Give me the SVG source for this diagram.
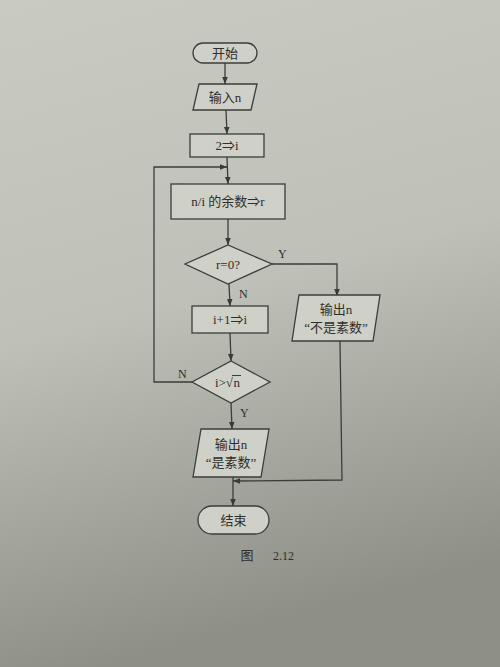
<svg xmlns="http://www.w3.org/2000/svg" width="500" height="667" viewBox="0 0 500 667">
<defs>
<linearGradient id="bg" x1="0" y1="0" x2="0.2" y2="1">
<stop offset="0" stop-color="#c9cac2"/>
<stop offset="0.5" stop-color="#bfc0b8"/>
<stop offset="1" stop-color="#8e9088"/>
</linearGradient>
<marker id="ah" viewBox="0 0 10 10" refX="10" refY="5" markerWidth="7" markerHeight="7" markerUnits="userSpaceOnUse" orient="auto">
<path d="M0,1 L10,5 L0,9 z" fill="#3a3a38"/>
</marker>
</defs>
<style>
.shape{fill:#cfd0c8;stroke:#3c3c3a;stroke-width:1.3}
.t{font-family:"Liberation Serif","Noto Sans CJK SC",serif;font-size:13px;fill:#2e2e2c;text-anchor:middle}
.lbl{font-family:"Liberation Serif",serif;font-size:12px;fill:#2e2e2c}
.c{fill:none;stroke:#3c3c3a;stroke-width:1.3}
.ca{fill:none;stroke:#3c3c3a;stroke-width:1.3;marker-end:url(#ah)}
</style>
<rect width="500" height="667" fill="url(#bg)"/>

<g id="connectors">
<line class="ca" x1="225" y1="63" x2="225" y2="84"/>
<line class="ca" x1="226" y1="110" x2="227" y2="134"/>
<line class="ca" x1="227" y1="157" x2="228" y2="184"/>
<line class="ca" x1="228" y1="219" x2="228" y2="245"/>
<polyline class="ca" points="272,264 337,264 337,296"/>
<line class="ca" x1="229" y1="284" x2="230" y2="306"/>
<line class="ca" x1="230" y1="333" x2="231" y2="361"/>
<polyline class="ca" points="192,382 154,382 154,167 227,167"/>
<line class="ca" x1="231" y1="403" x2="232" y2="429"/>
<polyline class="ca" points="340,341 342,480 233,481"/>
<line class="ca" x1="233" y1="477" x2="233" y2="506"/>
</g>

<g id="start">
<rect class="shape" x="193" y="43" width="64" height="20" rx="10"/>
<text class="t" x="225" y="57.5">开始</text>
</g>
<g id="input">
<polygon class="shape" points="199,84 257,84 251,110 193,110"/>
<text class="t" x="225" y="101.5">输入n</text>
</g>
<g id="init">
<rect class="shape" x="190" y="134" width="74" height="23"/>
<text class="t" x="227" y="150">2⇒i</text>
</g>
<g id="remainder">
<rect class="shape" x="171" y="184" width="114" height="35"/>
<text class="t" x="228" y="206">n/i 的余数⇒r</text>
</g>
<g id="check-r">
<polygon class="shape" points="228,245 272,264 228,284 185,264"/>
<text class="t" x="228" y="268.5">r=0?</text>
</g>
<g id="increment">
<rect class="shape" x="192" y="306" width="76" height="27"/>
<text class="t" x="230" y="324">i+1⇒i</text>
</g>
<g id="check-i">
<polygon class="shape" points="231,361 270,382 231,403 192,382"/>
<text class="t" x="233" y="387" style="text-anchor:end">i&gt;√</text>
<text class="t" x="233.5" y="387" style="text-anchor:start">n</text>
<line x1="232" y1="375.5" x2="241" y2="375.5" stroke="#2e2e2c" stroke-width="0.9"/>
</g>
<g id="not-prime">
<polygon class="shape" points="299,295 380,295 373,341 292,341"/>
<text class="t" x="336" y="314">输出n</text>
<text class="t" x="336" y="332">“不是素数”</text>
</g>
<g id="prime">
<polygon class="shape" points="201,429 269,429 261,477 193,477"/>
<text class="t" x="231" y="449">输出n</text>
<text class="t" x="231" y="467">“是素数”</text>
</g>
<g id="end">
<rect class="shape" x="198" y="506" width="71" height="28" rx="14"/>
<text class="t" x="233.5" y="524.5">结束</text>
</g>

<g id="labels">
<text class="lbl" x="278" y="258">Y</text>
<text class="lbl" x="239" y="298">N</text>
<text class="lbl" x="178" y="378">N</text>
<text class="lbl" x="240" y="417">Y</text>
<text class="t" x="247" y="560" font-size="13">图</text>
<text class="lbl" x="273" y="560" font-size="13">2.12</text>
</g>
</svg>
